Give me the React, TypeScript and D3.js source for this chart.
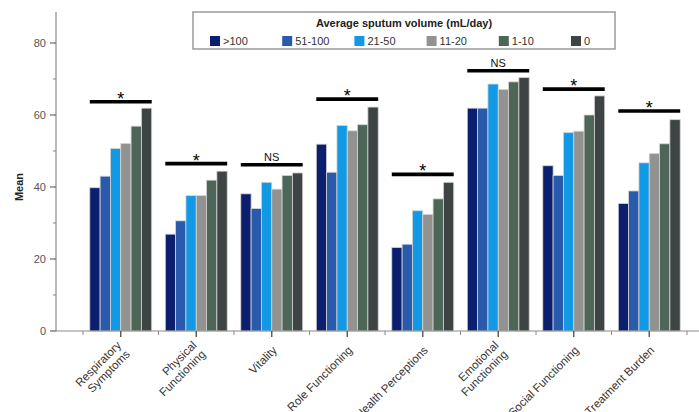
import React from "react";
import * as d3 from "d3";

const categories: string[][] = [
  ["Respiratory", "Symptoms"],
  ["Physical", "Functioning"],
  ["Vitality"],
  ["Role Functioning"],
  ["Health Perceptions"],
  ["Emotional", "Functioning"],
  ["Social Functioning"],
  ["Treatment Burden"],
];
const seriesNames = [">100", "51-100", "21-50", "11-20", "1-10", "0"];
const seriesColors = ["#0b1f6e", "#2a5aab", "#1299e6", "#929390", "#4e6658", "#3e4443"];

const vGt100 = [39.8, 26.9, 38.1, 51.9, 23.2, 61.9, 45.9, 35.4];
const v51_100 = [43.0, 30.6, 34.0, 44.1, 24.1, 61.9, 43.2, 38.9];
const v21_50 = [50.7, 37.6, 41.3, 57.1, 33.4, 68.6, 55.1, 46.7];
const v11_20 = [52.1, 37.6, 39.4, 55.6, 32.4, 67.1, 55.5, 49.3];
const v1_10 = [56.9, 41.9, 43.2, 57.3, 36.7, 69.2, 60.0, 52.0];
const v0 = [61.9, 44.4, 43.9, 62.2, 41.3, 70.4, 65.3, 58.7];
const seriesValues = [vGt100, v51_100, v21_50, v11_20, v1_10, v0];

const sigLabels = ["*", "*", "NS", "*", "*", "NS", "*", "*"];
const sigLevels = [63.7, 46.5, 46.2, 64.4, 43.5, 72.3, 67.2, 61.1];

const yMajor = [0, 20, 40, 60, 80];
const yMinor = [10, 30, 50, 70];

const legendTitle = "Average sputum volume (mL/day)";
const yTitle = "Mean";

const FONT = "'Liberation Sans', Arial, Helvetica, sans-serif";

export default function App() {
  const W = 699, H = 412;
  const x0 = 56, xEnd = 699, yBase = 331;
  const y = d3.scaleLinear().domain([0, 80]).range([yBase, 43]);
  const x = d3.scaleBand<number>()
    .domain(d3.range(categories.length))
    .range([83, 687])
    .paddingInner(0.18)
    .paddingOuter(0.09);
  const xi = d3.scaleBand<number>().domain(d3.range(seriesNames.length)).range([0, x.bandwidth()]);
  const step = x.step();
  const boundaries = d3.range(categories.length + 1).map((i) => 83 + i * step);

  const legendX = d3.scalePoint<number>().domain(d3.range(seriesNames.length)).range([210, 571]);

  return (
    <svg width={W} height={H} style={{ position: "absolute", left: 0, top: 0, background: "#fff" }} fontFamily={FONT}>
      {/* bars */}
      {categories.map((_, ci) => (
        <g key={ci} transform={`translate(${x(ci)},0)`}>
          {seriesValues.map((vals, si) => (
            <rect
              key={si}
              x={xi(si)!}
              y={y(vals[ci])}
              width={xi.bandwidth()}
              height={yBase - y(vals[ci])}
              fill={seriesColors[si]}
              stroke="#d4d4d4"
              strokeWidth={0.8}
            />
          ))}
          <line
            x1={0}
            x2={x.bandwidth()}
            y1={y(sigLevels[ci])}
            y2={y(sigLevels[ci])}
            stroke="#000"
            strokeWidth={3.6}
          />
          {sigLabels[ci] === "*" ? (
            <text x={x.bandwidth() / 2} y={y(sigLevels[ci]) + 3} textAnchor="middle" fontSize={18} fill="#000">
              *
            </text>
          ) : (
            <text x={x.bandwidth() / 2} y={y(sigLevels[ci]) - 3.5} textAnchor="middle" fontSize={11} fill="#111">
              {sigLabels[ci]}
            </text>
          )}
        </g>
      ))}

      {/* y axis */}
      <line x1={x0} x2={x0} y1={12} y2={yBase} stroke="#8a8a8a" strokeWidth={1.2} />
      {yMajor.map((t) => (
        <g key={t}>
          <line x1={x0 - 6} x2={x0} y1={y(t)} y2={y(t)} stroke="#666" strokeWidth={1.2} />
          <text x={x0 - 10} y={y(t)} dy="0.35em" textAnchor="end" fontSize={11} fill="#555">
            {t}
          </text>
        </g>
      ))}
      {yMinor.map((t) => (
        <line key={t} x1={x0 - 3} x2={x0} y1={y(t)} y2={y(t)} stroke="#888" strokeWidth={1} />
      ))}
      <text transform={`translate(23,${y(40)}) rotate(-90)`} textAnchor="middle" fontSize={11} fontWeight="bold" fill="#222">
        {yTitle}
      </text>

      {/* x axis */}
      <line x1={x0} x2={xEnd} y1={yBase} y2={yBase} stroke="#8a8a8a" strokeWidth={1.2} />
      {boundaries.map((bx, i) => (
        <line key={i} x1={bx} x2={bx} y1={yBase} y2={yBase + 4} stroke="#888" strokeWidth={1} />
      ))}
      {categories.map((lines, ci) => {
        const cx = x(ci)! + x.bandwidth() / 2;
        return (
          <g key={ci}>
            <line x1={cx} x2={cx} y1={yBase} y2={yBase + 6} stroke="#555" strokeWidth={1.4} />
            <text
              transform={`translate(${cx + 3},${yBase + 17}) rotate(-45)`}
              textAnchor="end"
              fontSize={11.5}
              fill="#333"
            >
              {lines.map((ln, li) => (
                <tspan
                  key={li}
                  x={0}
                  dy={li === 0 ? (lines.length === 1 ? "0.35em" : "-0.25em") : "1.1em"}
                >
                  {ln}
                </tspan>
              ))}
            </text>
          </g>
        );
      })}

      {/* legend */}
      <rect x={193} y={12} width={422} height={37} fill="#fff" stroke="#9a9a9a" strokeWidth={1.5} />
      <text x={404} y={27} textAnchor="middle" fontSize={11} fontWeight="bold" fill="#222">
        {legendTitle}
      </text>
      {seriesNames.map((nm, si) => (
        <g key={si} transform={`translate(${legendX(si)},36)`}>
          <rect x={0} y={0} width={10} height={10} fill={seriesColors[si]} />
          <text x={13} y={5} dy="0.36em" fontSize={11} fill="#333">
            {nm}
          </text>
        </g>
      ))}
    </svg>
  );
}
